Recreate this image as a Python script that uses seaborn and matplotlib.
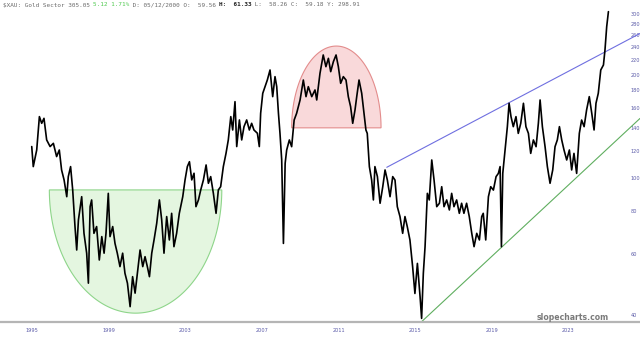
import numpy as np
import matplotlib
matplotlib.use("Agg")
import matplotlib.pyplot as plt
import seaborn as sns

# ---- data ----
years = [1994.97, 1995.05, 1995.23, 1995.37, 1995.49, 1995.61, 1995.75, 1995.93, 1996.10, 1996.27,
         1996.41, 1996.53, 1996.66, 1996.80, 1996.88, 1997.00, 1997.11, 1997.23, 1997.32, 1997.41,
         1997.58, 1997.70, 1997.84, 1997.93, 1998.02, 1998.10, 1998.22, 1998.36, 1998.50, 1998.63,
         1998.75, 1998.85, 1998.97, 1999.06, 1999.20, 1999.32, 1999.44, 1999.58, 1999.72, 1999.84,
         1999.97, 2000.11, 2000.24, 2000.37, 2000.49, 2000.63, 2000.77, 2000.89, 2001.01, 2001.12,
         2001.24, 2001.36, 2001.50, 2001.64, 2001.76, 2001.88, 2002.02, 2002.16, 2002.28, 2002.40,
         2002.54, 2002.68, 2002.86, 2002.98, 2003.10, 2003.21, 2003.33, 2003.45, 2003.55, 2003.68,
         2003.80, 2003.94, 2004.08, 2004.20, 2004.32, 2004.46, 2004.60, 2004.72, 2004.84, 2004.98,
         2005.12, 2005.24, 2005.37, 2005.47, 2005.59, 2005.68, 2005.82, 2005.94, 2006.06, 2006.20,
         2006.34, 2006.46, 2006.58, 2006.76, 2006.86, 2006.93, 2007.04, 2007.16, 2007.28, 2007.42,
         2007.56, 2007.68, 2007.77, 2007.86, 2007.94, 2008.03, 2008.12, 2008.21, 2008.29, 2008.43,
         2008.55, 2008.68, 2008.81, 2008.99, 2009.16, 2009.30, 2009.42, 2009.60, 2009.77,
         2009.86, 2010.03, 2010.20, 2010.34, 2010.47, 2010.59, 2010.73, 2010.87, 2010.99, 2011.11,
         2011.25, 2011.39, 2011.51, 2011.63, 2011.74, 2011.86, 2011.95, 2012.07, 2012.21, 2012.33,
         2012.43, 2012.50, 2012.61, 2012.73, 2012.82, 2012.90, 2013.03, 2013.17, 2013.31, 2013.43,
         2013.55, 2013.69, 2013.83, 2013.95, 2014.07, 2014.21, 2014.35, 2014.47, 2014.59, 2014.73,
         2014.87, 2014.99, 2015.12, 2015.26, 2015.34, 2015.43, 2015.52, 2015.64, 2015.74, 2015.87,
         2015.99, 2016.13, 2016.27, 2016.39, 2016.51, 2016.65, 2016.79, 2016.91, 2017.03, 2017.17,
         2017.31, 2017.43, 2017.55, 2017.69, 2017.83, 2017.96, 2018.08, 2018.22, 2018.36, 2018.48,
         2018.56, 2018.69, 2018.83, 2018.95, 2019.09, 2019.23, 2019.35, 2019.44, 2019.51, 2019.58,
         2019.70, 2019.82, 2019.91, 2020.01, 2020.13, 2020.27, 2020.39, 2020.52, 2020.66, 2020.79,
         2020.92, 2021.04, 2021.18, 2021.32, 2021.44, 2021.53, 2021.65, 2021.79, 2021.91, 2022.05,
         2022.19, 2022.31, 2022.43, 2022.54, 2022.66, 2022.78, 2022.92, 2023.06, 2023.18, 2023.30,
         2023.44, 2023.58, 2023.70, 2023.83, 2023.96, 2024.10, 2024.23, 2024.35, 2024.45, 2024.57,
         2024.70, 2024.84, 2024.92, 2025.01, 2025.10]
prices = [123.5, 108.0, 120.7, 150.9, 144.3, 149.2, 129.1, 123.5, 126.2, 115.5,
          120.7, 105.6, 98.8, 88.3, 101.0, 108.0, 92.4, 72.3, 61.8, 75.6,
          88.3, 69.1, 60.5, 49.5, 82.6, 86.4, 69.1, 72.3, 57.8, 67.6,
          60.5, 69.1, 90.3, 67.6, 72.3, 64.6, 60.5, 55.3, 60.5, 52.9,
          49.5, 42.3, 51.7, 46.3, 52.9, 61.8, 55.3, 59.1, 55.3, 51.7,
          60.5, 66.1, 73.9, 86.4, 75.6, 60.5, 77.3, 66.1, 79.0, 63.2,
          69.1, 79.0, 88.3, 98.8, 108.0, 111.6, 98.8, 103.3, 82.6, 86.4,
          92.4, 98.8, 109.2, 96.6, 101.0, 90.3, 79.0, 92.4, 94.4, 108.0,
          118.0, 129.1, 150.9, 138.0, 166.8, 123.5, 147.6, 129.1, 141.1, 147.6,
          138.0, 144.3, 138.0, 135.0, 123.5, 154.3, 176.4, 184.5, 192.9, 206.2,
          172.5, 197.2, 184.5, 154.3, 135.0, 112.9, 64.6, 110.4, 120.7, 129.1,
          123.4, 147.5, 154.3, 168.7, 192.8, 172.5, 184.4, 172.5, 180.4,
          168.7, 201.6, 228.0, 210.8, 222.9, 203.9, 218.0, 228.0, 210.8, 188.6,
          197.2, 192.8, 172.5, 161.3, 144.3, 157.8, 172.5, 192.8, 176.4, 154.3,
          138.0, 134.9, 108.0, 98.7, 86.4, 108.0, 101.0, 84.5, 94.4, 105.6,
          98.7, 88.3, 101.0, 98.7, 82.6, 77.3, 69.1, 77.3, 72.3, 66.1,
          55.3, 46.2, 56.5, 45.2, 39.1, 52.9, 63.2, 90.3, 86.4, 112.9,
          98.7, 82.6, 84.5, 94.4, 82.6, 86.4, 80.8, 90.3, 82.6, 86.4,
          79.0, 84.5, 79.0, 84.5, 77.3, 69.1, 63.2, 69.1, 66.1, 77.3,
          79.0, 66.1, 88.3, 94.4, 92.3, 101.0, 103.2, 108.0, 63.2, 103.2,
          120.7, 141.1, 165.0, 150.9, 141.1, 150.9, 134.9, 144.3, 165.0, 141.1,
          134.9, 118.0, 129.1, 123.4, 144.3, 168.7, 141.1, 123.4, 108.0, 96.6,
          105.6, 123.4, 129.1, 141.1, 129.1, 120.7, 112.9, 120.7, 105.6, 118.0,
          103.2, 134.9, 147.5, 141.1, 157.8, 172.5, 154.3, 138.0, 165.0, 176.4,
          206.2, 213.2, 235.7, 275.6, 304.7]

x_ticks = [1995, 1999, 2003, 2007, 2011, 2015, 2019, 2023]
x_tick_labels = ["1995", "1999", "2003", "2007", "2011", "2015", "2019", "2023"]
y_ticks = [40, 60, 80, 100, 120, 140, 160, 180, 200, 220, 240, 260, 280, 300]
y_tick_labels = [str(v) for v in y_ticks]

# annotation shapes (years / values)
bowl_x = [1995.89, 2004.90]        # left, right
bowl_y = [92.4, 40.5]              # rim, bottom
dome_x = [2008.55, 2013.22]
dome_y = [140.0, 242.0]            # base, top
blue_line_x = [2013.52, 2026.75]
blue_line_y = [107.5, 263.3]
green_line_x = [2015.34, 2026.75]
green_line_y = [38.25, 149.1]

header = [("$XAU: Gold Sector 305.05 ", "#6b6b6b", "normal"),
          ("5.12 1.71%", "#4fc94f", "normal"),
          (" D: 05/12/2000 O:  59.56 ", "#6b6b6b", "normal"),
          ("H:  61.33", "#222222", "bold"),
          (" L:  58.26 C:  59.18 Y: 298.91", "#6b6b6b", "normal")]

# ---- figure ----
sns.set_style("white")
W, H = 640, 339
fig = plt.figure(figsize=(W / 100, H / 100), dpi=100)
ax = fig.add_axes([0, 1 - 322 / H, 1, 322 / H])
ax.set_yscale('log')
ax.set_xlim(1993.312, 2026.75)
ax.set_ylim(38.17, 329.4)

def half_ellipse(xs, ys, n=200):
    cx = (xs[0] + xs[1]) / 2
    a = (xs[1] - xs[0]) / 2
    t = np.linspace(0, np.pi, n)
    lb, lt = np.log(ys[0]), np.log(ys[1])
    return cx + a * np.cos(t), np.exp(lb + (lt - lb) * np.sin(t))

bx, by = half_ellipse(bowl_x, bowl_y)
ax.fill(bx, by, facecolor="#e4f6e0", edgecolor="#8ed58a", lw=0.8, zorder=1)
dx, dy = half_ellipse(dome_x, dome_y)
ax.fill(dx, dy, facecolor="#f9d9da", edgecolor="#e38c8c", lw=0.8, zorder=1)

ax.plot(blue_line_x, blue_line_y, color="#6f6fe0", lw=0.8, zorder=2)
ax.plot(green_line_x, green_line_y, color="#5fae5f", lw=0.8, zorder=2)

sns.lineplot(x=years, y=prices, ax=ax, color="black", lw=1.2, estimator=None, zorder=3)

ax.set_xticks(x_ticks)
ax.set_xticklabels(x_tick_labels)
ax.set_yticks(y_ticks)
ax.set_yticklabels(y_tick_labels)
ax.yaxis.set_minor_locator(matplotlib.ticker.NullLocator())
ax.yaxis.tick_right()
ax.tick_params(axis='y', length=0, pad=-6.8, labelsize=3.6, labelcolor="#5b5ba8")
for lbl in ax.get_yticklabels():
    lbl.set_horizontalalignment('left')
ax.tick_params(axis='x', length=0, pad=4.3, labelsize=3.6, labelcolor="#5b5ba8")
ax.set_xlabel("")
ax.set_ylabel("")
for s in ["top", "left", "right"]:
    ax.spines[s].set_visible(False)
ax.spines["bottom"].set_color("#b5b5b5")
ax.spines["bottom"].set_linewidth(1.6)
ax.grid(False)

# header text (monospace, multi-coloured)
fs = 4.3
cw = 0.602 * fs * 100 / 72  # px per char
xpos = 3.3
for txt, col, wt in header:
    fig.text(xpos / W, 1 - 5 / H, txt, fontsize=fs, family="DejaVu Sans Mono",
             color=col, weight=wt, va="center", ha="left")
    xpos += len(txt) * cw

fig.text(573 / W, 1 - 317.7 / H, "slopecharts.com", fontsize=5.6, weight="bold",
         color="#7a7a7a", ha="center", va="center")

fig.savefig("out.png", dpi=100)
